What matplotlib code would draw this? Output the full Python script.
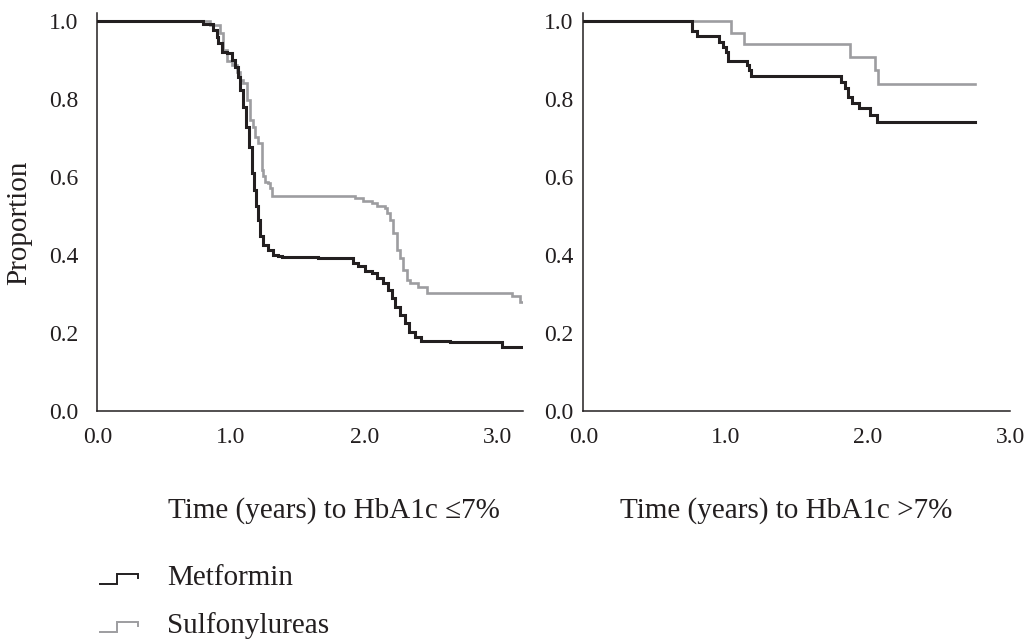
import matplotlib
matplotlib.use("Agg")
import matplotlib.pyplot as plt
from matplotlib.lines import Line2D

plt.rcParams["font.family"] = ["Liberation Serif", "DejaVu Serif"]

# Kaplan-Meier step estimates: event times (years) and proportion after each step
# Left panel: time to HbA1c <= 7%
MET_LOW_T = [0.794, 0.869, 0.894, 0.907, 0.932, 0.969, 1.007, 1.031, 1.056, 1.069,
             1.089, 1.114, 1.139, 1.156, 1.174, 1.189, 1.206, 1.219, 1.244, 1.281,
             1.318, 1.356, 1.381, 1.655, 1.893, 1.918, 1.955, 2.005, 2.055, 2.093,
             2.142, 2.180, 2.205, 2.230, 2.267, 2.305, 2.337, 2.380, 2.422, 2.642,
             3.029]
MET_LOW_S = [0.991, 0.977, 0.960, 0.943, 0.921, 0.919, 0.900, 0.883, 0.857, 0.823,
             0.780, 0.729, 0.677, 0.609, 0.566, 0.524, 0.489, 0.447, 0.425, 0.412,
             0.399, 0.397, 0.395, 0.393, 0.391, 0.378, 0.370, 0.359, 0.352, 0.340,
             0.327, 0.310, 0.288, 0.267, 0.246, 0.224, 0.203, 0.188, 0.180, 0.177,
             0.164]
MET_LOW_END = 3.19

SU_LOW_T = [0.844, 0.919, 0.944, 0.969, 1.007, 1.044, 1.069, 1.094, 1.119, 1.144,
            1.169, 1.181, 1.206, 1.231, 1.244, 1.256, 1.281, 1.294, 1.306, 1.930,
            1.993, 2.055, 2.093, 2.155, 2.172, 2.192, 2.217, 2.243, 2.267, 2.292,
            2.318, 2.342, 2.404, 2.467, 3.104, 3.170]
SU_LOW_S = [0.989, 0.968, 0.926, 0.896, 0.887, 0.870, 0.849, 0.840, 0.797, 0.746,
            0.729, 0.703, 0.686, 0.618, 0.601, 0.588, 0.583, 0.571, 0.552, 0.545,
            0.538, 0.532, 0.526, 0.520, 0.506, 0.489, 0.455, 0.412, 0.391, 0.361,
            0.335, 0.327, 0.318, 0.303, 0.293, 0.280]
SU_LOW_END = 3.19

# Right panel: time to HbA1c > 7%
MET_HIGH_T = [0.767, 0.797, 0.954, 0.980, 1.004, 1.020, 1.149, 1.168, 1.179, 1.810,
              1.840, 1.864, 1.892, 1.939, 2.012, 2.063]
MET_HIGH_S = [0.975, 0.962, 0.947, 0.934, 0.921, 0.897, 0.887, 0.874, 0.859, 0.844,
              0.827, 0.806, 0.790, 0.776, 0.759, 0.740]
MET_HIGH_END = 2.75

SU_HIGH_T = [1.036, 1.130, 1.876, 2.047, 2.070]
SU_HIGH_S = [0.970, 0.941, 0.908, 0.874, 0.838]
SU_HIGH_END = 2.75

GROUPS = ["Metformin", "Sulfonylureas"]
COLORS = {"Metformin": "#231f20", "Sulfonylureas": "#9d9da0"}
WIDTHS = {"Metformin": 2.2, "Sulfonylureas": 1.9}

TICKS = [0.0, 1.0, 2.0, 3.0]
YTICKS = [0.0, 0.2, 0.4, 0.6, 0.8, 1.0]


def km_steps(times, surv, end):
    """Prepend the start at 1.0 and extend the last level to the end of follow-up."""
    xs = [0.0] + list(times) + [end]
    ys = [1.0] + list(surv) + [surv[-1]]
    return xs, ys


def style_axes(ax, xmax, ypad):
    ax.set_xlim(0, xmax)
    ax.set_ylim(0, 1.0197)
    ax.set_xticks(TICKS)
    ax.set_xticklabels([f"{t:.1f}" for t in TICKS])
    ax.set_yticks(YTICKS)
    ax.set_yticklabels([f"{t:.1f}" for t in YTICKS])
    ax.spines["top"].set_visible(False)
    ax.spines["right"].set_visible(False)
    for side in ("left", "bottom"):
        ax.spines[side].set_linewidth(1.1)
        ax.spines[side].set_color("#231f20")
    ax.tick_params(axis="x", length=0, pad=11.5, labelsize=17, colors="#231f20")
    ax.tick_params(axis="y", length=0, pad=ypad, labelsize=17, colors="#231f20")


fig = plt.figure(figsize=(10.29, 6.41), dpi=100)
ax_low = fig.add_axes([0.0946, 0.3593, 0.4137, 0.620])
ax_high = fig.add_axes([0.5669, 0.3593, 0.4147, 0.620])

panels = [
    (ax_low, {"Metformin": (MET_LOW_T, MET_LOW_S, MET_LOW_END),
              "Sulfonylureas": (SU_LOW_T, SU_LOW_S, SU_LOW_END)}),
    (ax_high, {"Metformin": (MET_HIGH_T, MET_HIGH_S, MET_HIGH_END),
               "Sulfonylureas": (SU_HIGH_T, SU_HIGH_S, SU_HIGH_END)}),
]

for ax, series in panels:
    # grey first so the black curve sits on top
    for name in reversed(GROUPS):
        t, s, end = series[name]
        xs, ys = km_steps(t, s, end)
        ax.step(xs, ys, where="post", color=COLORS[name], linewidth=WIDTHS[name],
                solid_joinstyle="miter")

style_axes(ax_low, 3.19, 13.7)
style_axes(ax_high, 3.0, 7.2)

ax_low.set_ylabel("Proportion", fontsize=21, color="#231f20")
ax_low.yaxis.set_label_coords(-0.153, 0.4736)
ax_low.set_xlabel("Time (years) to HbA1c \u22647%", fontsize=21, color="#231f20")
ax_low.xaxis.set_label_coords(0.555, -0.217)
ax_high.set_xlabel("Time (years) to HbA1c >7%", fontsize=21, color="#231f20")
ax_high.xaxis.set_label_coords(0.475, -0.217)

# Legend drawn below the plots with small step glyphs
W, H = 1029.0, 641.0
for i, name in enumerate(GROUPS):
    yc = 578 + 48 * i
    gx = [100, 117.3, 117.3, 138, 138]
    gy = [yc + 6, yc + 6, yc - 4, yc - 4, yc]
    fig.add_artist(Line2D([x / W for x in gx], [1 - y / H for y in gy],
                          transform=fig.transFigure, color=COLORS[name],
                          linewidth=1.4, solid_joinstyle="miter"))
    fig.text(167 / W, 1 - yc / H, name, fontsize=21, va="center", ha="left",
             color="#231f20")

fig.savefig("out.png", dpi=100)
